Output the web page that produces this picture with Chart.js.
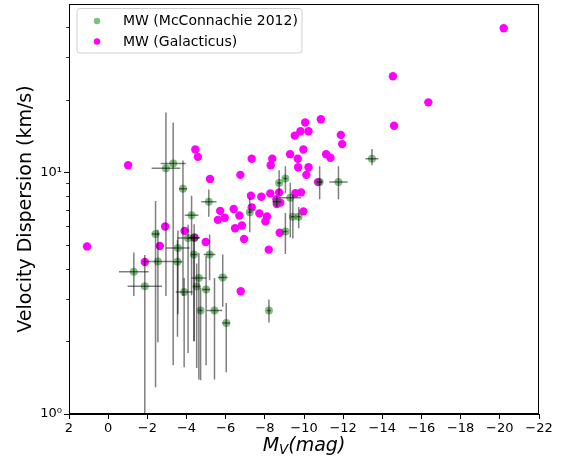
<!DOCTYPE html>
<html>
<head>
<meta charset="utf-8">
<script src="https://cdn.jsdelivr.net/npm/chart.js@4/dist/chart.umd.min.js"></script>
<style>
  html, body { margin: 0; padding: 0; background: #fff; }
  #wrap { width: 570px; height: 463px; }
</style>
</head>
<body>
<div id="wrap"><canvas id="c" width="570" height="463"></canvas></div>
<script>
// ---- data ----
// Galacticus model satellites (magenta)
const galX = [1.08, -1.02, -1.87, -2.64, -2.91, -3.9, -4.41, -4.45, -4.58, -4.98,
  -5.2, -5.6, -5.72, -5.95, -6.41, -6.48, -6.7, -6.75, -6.83, -6.94,
  -6.77, -7.29, -7.33, -7.33, -7.72, -7.82, -8.03, -8.11, -8.2, -8.28,
  -8.3, -8.38, -8.59, -8.61, -8.79, -8.73, -8.76, -9.29, -9.53, -9.56,
  -9.68, -9.7, -9.82, -9.85, -9.97, -9.97, -10.06, -10.12, -10.23, -10.23,
  -10.72, -10.86, -11.13, -11.35, -11.88, -11.95, -14.54, -14.6, -16.35, -20.2];
const galY = [4.94, 10.7, 4.26, 4.96, 5.97, 5.73, 5.38, 12.45, 11.6, 5.15,
  9.4, 6.36, 6.93, 6.49, 7.06, 5.87, 6.63, 9.77, 6.03, 5.3,
  3.22, 8.01, 7.17, 11.4, 6.77, 7.93, 6.27, 6.57, 4.79, 8.19,
  10.7, 11.4, 7.74, 7.4, 7.5, 8.27, 5.63, 11.9, 14.2, 8.2,
  11.4, 10.5, 14.8, 8.27, 12.45, 6.9, 16.1, 9.77, 14.8, 10.5,
  9.12, 16.6, 11.9, 11.5, 14.3, 13.1, 25.0, 15.6, 19.5, 39.5];

// Milky Way dwarfs, McConnachie 2012 (green, with error bars)
const mwX = [-1.31, -1.87, -2.42, -2.54, -2.95, -3.32, -3.56, -3.54, -3.82, -3.88,
  -4.08, -4.26, -4.39, -4.38, -4.63, -4.52, -4.72, -5.0, -5.14, -5.18,
  -5.43, -5.85, -6.03, -7.23, -8.21, -8.61, -8.73, -9.05, -9.3, -9.05,
  -9.43, -9.73, -10.8, -11.76, -13.47];
const mwY = [3.88, 3.38, 5.56, 4.28, 10.4, 10.9, 4.86, 4.27, 8.56, 3.2,
  5.35, 6.65, 5.37, 4.57, 3.66, 3.37, 2.68, 3.28, 7.57, 4.57,
  2.68, 3.67, 2.38, 6.84, 2.68, 7.57, 9.05, 9.44, 7.86, 5.7,
  6.56, 6.56, 9.13, 9.13, 11.4];
const mwXErr = [0.76, 0.88, 0.2, 0.75, 0.73, 0.64, 0.6, 0.25, 0.2, 0.43,
  0.55, 0.35, 0.3, 0.15, 0.38, 0.2, 0.1, 0.2, 0.39, 0.3,
  0.4, 0.25, 0.2, 0.1, 0.1, 0.22, 0.1, 0.1, 0.55, 0.1,
  0.1, 0.1, 0.15, 0.47, 0.33];
const mwYLo = [3.08, 0.5, 1.29, 1.98, 3.08, 1.59, 2.59, 2.09, 3.08, 1.56,
  1.79, 3.1, 2.0, 2.0, 1.39, 1.55, 1.38, 1.59, 6.56, 3.58,
  1.39, 2.78, 1.49, 5.66, 2.39, 7.2, 8.05, 8.19, 5.38, 4.6,
  5.33, 5.88, 7.74, 7.74, 10.7];
const mwYHi = [4.66, 4.55, 7.62, 5.79, 17.7, 16.1, 5.75, 5.27, 11.2, 3.66,
  6.07, 8.01, 6.1, 5.5, 4.64, 4.2, 3.33, 4.5, 8.5, 5.54,
  3.66, 4.57, 2.88, 7.9, 2.98, 7.95, 10.2, 10.6, 9.06, 6.8,
  8.08, 7.2, 10.6, 10.6, 12.5];

const xTicks = [2, 0, -2, -4, -6, -8, -10, -12, -14, -16, -18, -20, -22];
const yTicks = [1, 2, 3, 4, 5, 6, 7, 8, 9, 10, 20, 30, 40];
const yTickLabels = { 1: '10\u2070', 10: '10\u00b9' };
const legendLabels = ['MW (McConnachie 2012)', 'MW (Galacticus)'];

const FONT = '"DejaVu Sans", sans-serif';
const GREEN = 'rgba(0,128,0,0.5)';
const MAGENTA = '#ff00ff';

// error bars, frame, minor ticks, legend and x label
const extras = {
  id: 'extras',
  afterDatasetsDraw(chart) {
    const { ctx, chartArea: a, scales: { x, y } } = chart;
    ctx.save();
    ctx.beginPath();
    ctx.rect(a.left, a.top, a.right - a.left, a.bottom - a.top);
    ctx.clip();
    ctx.strokeStyle = 'rgba(0,0,0,0.5)';
    ctx.lineWidth = 1.5;
    for (let i = 0; i < mwX.length; i++) {
      const px = x.getPixelForValue(mwX[i]);
      const py = y.getPixelForValue(mwY[i]);
      ctx.beginPath();
      ctx.moveTo(x.getPixelForValue(mwX[i] + mwXErr[i]), py);
      ctx.lineTo(x.getPixelForValue(mwX[i] - mwXErr[i]), py);
      ctx.stroke();
      ctx.beginPath();
      ctx.moveTo(px, y.getPixelForValue(mwYHi[i]));
      ctx.lineTo(px, y.getPixelForValue(mwYLo[i]));
      ctx.stroke();
    }
    ctx.restore();
  },
  afterDraw(chart) {
    const { ctx, chartArea: a, scales: { y } } = chart;
    ctx.save();
    // frame (all four spines)
    ctx.strokeStyle = '#000';
    ctx.lineWidth = 1;
    ctx.strokeRect(Math.round(a.left) + 0.5, Math.round(a.top) + 0.5,
      Math.round(a.right - a.left) - 1, Math.round(a.bottom - a.top) - 1);

    // y ticks, major longer than minor
    yTicks.forEach(v => {
      const py = Math.round(y.getPixelForValue(v)) + 0.5;
      const major = v === 1 || v === 10;
      ctx.lineWidth = major ? 1 : 0.8;
      ctx.beginPath();
      ctx.moveTo(a.left, py);
      ctx.lineTo(a.left - (major ? 5 : 3), py);
      ctx.stroke();
    });

    // legend box
    const bx = 77, by = 8.5, bw = 225, bh = 44.5, r = 3;
    ctx.beginPath();
    ctx.moveTo(bx + r, by);
    ctx.arcTo(bx + bw, by, bx + bw, by + bh, r);
    ctx.arcTo(bx + bw, by + bh, bx, by + bh, r);
    ctx.arcTo(bx, by + bh, bx, by, r);
    ctx.arcTo(bx, by, bx + bw, by, r);
    ctx.closePath();
    ctx.fillStyle = 'rgba(255,255,255,0.8)';
    ctx.fill();
    ctx.strokeStyle = '#d0d0d0';
    ctx.lineWidth = 1;
    ctx.stroke();

    const rows = [[21, GREEN], [41.5, MAGENTA]];
    ctx.font = '14px ' + FONT;
    ctx.textBaseline = 'middle';
    rows.forEach(([ry, col], i) => {
      ctx.beginPath();
      ctx.arc(97, ry, 3.2, 0, Math.PI * 2);
      ctx.fillStyle = col;
      ctx.fill();
      ctx.fillStyle = '#000';
      ctx.fillText(legendLabels[i], 123, ry + 0.5);
    });

    // x axis label: M_V(mag) in italic with subscript
    const big = 'italic 19px ' + FONT, small = 'italic 13.5px ' + FONT;
    ctx.textBaseline = 'alphabetic';
    ctx.font = big;
    const wM = ctx.measureText('M').width;
    const wRest = ctx.measureText('(mag)').width;
    ctx.font = small;
    const wV = ctx.measureText('V').width;
    const total = wM + wV + wRest;
    let tx = (a.left + a.right) / 2 - total / 2;
    ctx.fillStyle = '#000';
    ctx.font = big;
    ctx.fillText('M', tx, 451);
    tx += wM;
    ctx.font = small;
    ctx.fillText('V', tx, 454);
    tx += wV;
    ctx.font = big;
    ctx.fillText('(mag)', tx, 451);
    ctx.restore();
  }
};

const fmtX = v => (v < 0 ? '\u2212' + Math.abs(v) : String(v));

new Chart(document.getElementById('c'), {
  type: 'scatter',
  data: {
    datasets: [
      {
        label: legendLabels[0],
        data: mwX.map((v, i) => ({ x: v, y: mwY[i] })),
        backgroundColor: GREEN,
        borderWidth: 0,
        pointRadius: 4
      },
      {
        label: legendLabels[1],
        data: galX.map((v, i) => ({ x: v, y: galY[i] })),
        backgroundColor: MAGENTA,
        borderWidth: 0,
        pointRadius: 4.2
      }
    ]
  },
  options: {
    responsive: false,
    animation: false,
    devicePixelRatio: 1,
    layout: { padding: { top: 1, right: 31, left: 0, bottom: 0 } },
    plugins: { legend: { display: false }, tooltip: { enabled: false } },
    scales: {
      x: {
        type: 'linear',
        reverse: true,
        min: -22,
        max: 2,
        afterBuildTicks: s => { s.ticks = xTicks.map(v => ({ value: v })); },
        afterFit: s => { s.height = 49; s.paddingLeft = 0; s.paddingRight = 0; },
        grid: { drawOnChartArea: false, tickLength: 5, tickColor: '#000', tickWidth: 1 },
        border: { color: '#000', width: 1 },
        ticks: {
          font: { family: FONT, size: 13 },
          color: '#000',
          padding: 2,
          maxRotation: 0,
          autoSkip: false,
          callback: v => fmtX(v)
        }
      },
      y: {
        type: 'logarithmic',
        min: 1,
        max: 49.7,
        afterBuildTicks: s => { s.ticks = yTicks.map(v => ({ value: v })); },
        afterFit: s => { s.width = 69; s.paddingTop = 0; s.paddingBottom = 0; },
        grid: { drawOnChartArea: false, drawTicks: false },
        border: { color: '#000', width: 1 },
        title: {
          display: true,
          text: 'Velocity Dispersion (km/s)',
          font: { family: FONT, size: 19 },
          color: '#000',
          padding: { top: 15, bottom: 0 }
        },
        ticks: {
          font: { family: FONT, size: 13 },
          color: '#000',
          padding: 7,
          autoSkip: false,
          callback: v => yTickLabels[v] || ''
        }
      }
    }
  },
  plugins: [extras]
});
</script>
</body>
</html>
